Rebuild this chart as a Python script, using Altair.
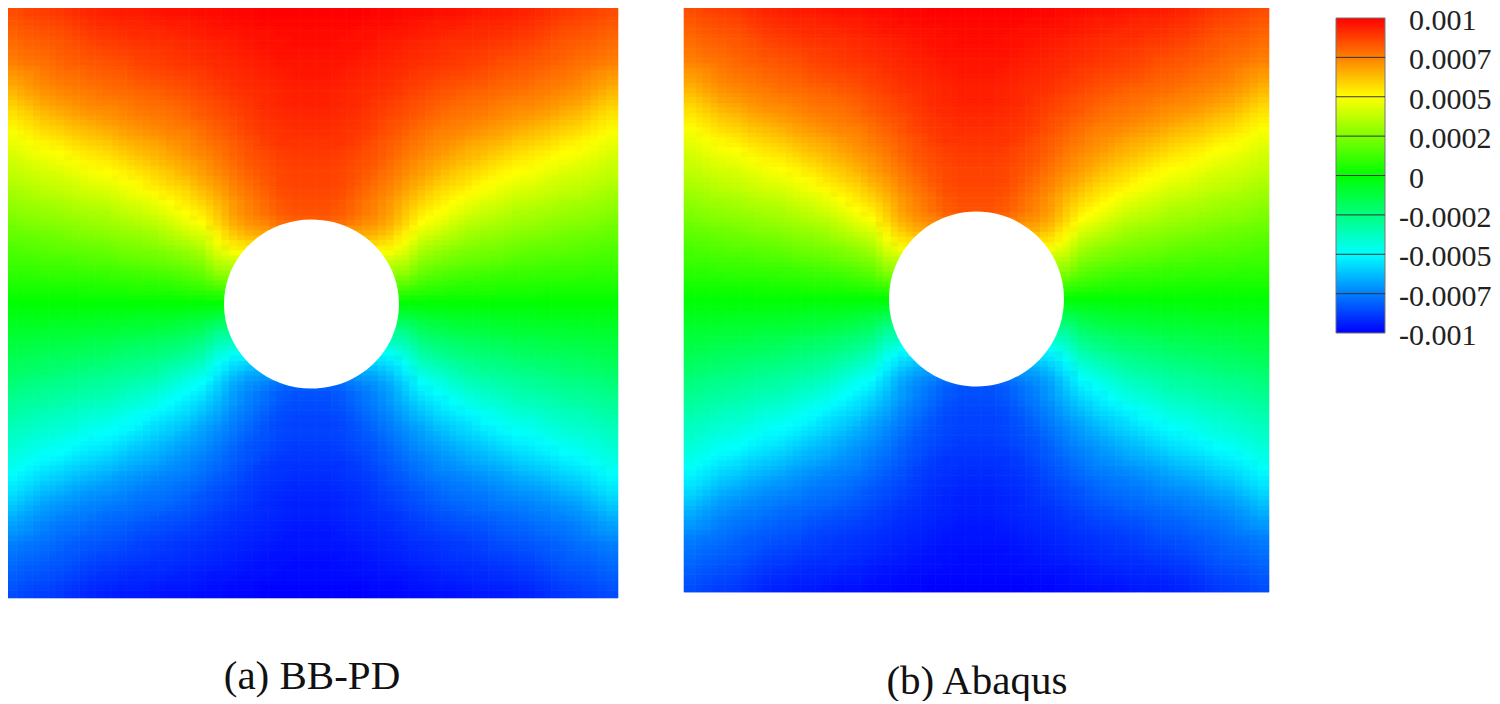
import altair as alt
import pandas as pd

# Column distances from the hole centre, and row heights above it (field is read as
# percent of 0.001 in the upper half; the lower half reads as its opposite).
COL_D = [0, 15, 30, 45, 60, 75, 90, 105, 120, 135, 150, 165, 180, 195, 210, 225, 240, 255, 270, 285]
ROW_U = [290, 280, 270, 260, 250, 240, 230, 220, 210, 200, 190, 180, 170, 160, 150, 140, 130, 120, 110, 100,
         90, 80, 70, 60, 50, 40, 30, 20, 10, 0]
FIELD = [
    [100,100,100,100,99,99,98,98,97,97,96,95,95,94,93,91,89,88,87,85],
    [99,99,99,99,98,98,97,96,95,95,94,93,93,92,91,89,87,86,85,83],
    [98,98,98,97,97,96,96,95,94,93,92,92,91,90,89,87,85,84,83,81],
    [98,98,97,97,96,95,94,93,92,91,91,90,89,88,87,85,83,82,81,79],
    [97,97,97,96,95,94,93,92,91,90,89,88,87,86,85,83,82,80,79,77],
    [96,96,96,95,94,93,92,91,90,89,88,87,85,84,83,82,80,78,77,75],
    [96,96,95,94,93,92,91,89,88,87,86,85,83,82,81,79,78,76,73,71],
    [95,95,94,93,92,91,89,88,86,85,84,83,81,80,79,77,76,74,71,68],
    [94,94,93,92,91,90,88,86,84,83,81,80,79,78,76,75,73,71,68,64],
    [94,94,93,92,90,88,86,84,82,80,79,78,76,75,74,72,70,68,64,60],
    [93,93,92,91,89,87,85,83,80,78,77,76,74,72,71,69,66,64,60,56],
    [92,92,91,90,88,85,83,80,78,76,75,73,71,69,67,65,62,60,56,53],
    [91,91,90,89,87,84,81,78,75,74,72,70,68,65,63,61,58,56,53,49],
    [90,90,90,88,85,82,79,76,73,71,68,66,64,61,59,57,54,52,49,46],
    [89,89,88,86,84,81,77,74,71,68,65,63,60,57,55,53,50,49,46,43],
    [88,88,87,85,83,79,75,71,68,65,62,59,56,53,52,49,47,45,43,40],
    [87,87,86,84,81,77,73,69,65,61,58,55,52,50,48,46,43,42,40,38],
    [87,87,86,83,79,75,70,66,61,58,55,51,49,46,45,42,40,39,37,35],
    [86,86,85,81,77,73,67,62,57,54,51,48,45,42,41,39,37,36,34,32],
    [85,85,83,79,75,70,64,58,54,50,46,43,41,38,37,35,33,32,31,29],
    [84,84,82,78,74,69,61,54,50,46,42,39,37,34,33,32,30,29,28,26],
    [80,80,78,74,71,66,58,50,46,41,37,35,33,31,30,28,27,26,25,23],
    [70,70,68,68,66,61,53,44,40,36,32,30,29,27,26,25,23,22,21,20],
    [60,60,60,60,58,55,48,38,34,31,28,26,25,23,22,21,20,19,18,17],
    [50,50,50,50,50,48,42,32,28,25,23,22,21,19,18,17,17,16,15,14],
    [40,40,40,40,40,38,35,26,23,21,19,18,17,15,15,14,13,13,12,12],
    [30,30,30,30,30,30,28,20,17,15,14,13,12,11,11,10,10,10,9,9],
    [20,20,20,20,20,20,19,14,12,10,9,9,8,8,7,7,7,6,6,6],
    [10,10,10,10,10,10,9,7,6,5,5,5,4,4,4,3,3,3,3,3],
    [0,0,0,0,0,0,0,0,0,0,0,0,0,0,0,0,0,0,0,0],
]

LEVELS = [1, 0.75, 0.5, 0.25, 0, -0.25, -0.5, -0.75, -1]
LABELS = ["0.001", "0.0007", "0.0005", "0.0002", "0", "-0.0002", "-0.0005", "-0.0007", "-0.001"]
COLOR_DOMAIN = [-1, -0.5, 0, 0.5, 1]
COLOR_RANGE = ["#0000ff", "#00ffff", "#00ff00", "#ffff00", "#ff0000"]
FONT = "Liberation Serif"
XMAX, YMAX = 292.5, 295


def build(shift_x, shift_y):
    rows = []
    for u, row in zip(ROW_U, FIELD):
        for d, val in zip(COL_D, row):
            for sx in ([1, -1] if d else [1]):
                for sy in ([1, -1] if u else [1]):
                    x, y = sx * d, sy * u
                    x0 = -XMAX if x == -COL_D[-1] else max(x - 7.5 + shift_x, -XMAX)
                    x1 = XMAX if x == COL_D[-1] else min(x + 7.5 + shift_x, XMAX)
                    y0 = -YMAX if y == -ROW_U[0] else max(y - 5 + shift_y, -YMAX)
                    y1 = YMAX if y == ROW_U[0] else min(y + 5 + shift_y, YMAX)
                    rows.append({"x": x0, "x2": x1, "y": y0, "y2": y1, "v": sy * val / 100})
    return pd.DataFrame(rows)


field_a = build(-3.75, -2.5)
field_b = build(3.75, 2.5)
cscale = alt.Scale(domain=COLOR_DOMAIN, range=COLOR_RANGE, interpolate="rgb")


def panel(caption, ydomain, width, pad, hole, hole_mark):
    xs = alt.Scale(domain=[-XMAX, XMAX], nice=False, zero=False)
    ys = alt.Scale(domain=ydomain, nice=False, zero=False)
    heat = alt.Chart(field_a).mark_rect(strokeWidth=0.6).encode(
        x=alt.X("x:Q", scale=xs, axis=alt.Axis(title=caption, domain=False, ticks=False, labels=False, grid=False,
                                               titleFont=FONT, titleFontSize=41, titleFontWeight="normal",
                                               titleColor="#111111", titlePadding=pad)),
        x2="x2:Q",
        y=alt.Y("y:Q", scale=ys, axis=None),
        y2="y2:Q",
        color=alt.Color("v:Q", scale=cscale, legend=None),
        stroke=alt.Stroke("v:Q", scale=cscale, legend=None),
    )
    smooth = alt.Chart(field_b).mark_rect(opacity=0.5).encode(
        x=alt.X("x:Q", scale=xs), x2="x2:Q",
        y=alt.Y("y:Q", scale=ys), y2="y2:Q",
        color=alt.Color("v:Q", scale=cscale, legend=None),
    )
    circ = alt.Chart(pd.DataFrame(hole)).mark_point(**hole_mark).encode(
        x=alt.X("x:Q", scale=xs), y=alt.Y("y:Q", scale=ys))
    return alt.layer(heat, smooth, circ).properties(width=width, height=600)


left = panel("(a) BB-PD", [-303, 297], 613, 50, [{"x": 0, "y": -1}],
             dict(filled=True, color="white", opacity=1, strokeWidth=0, size=30625,
                  shape="M -1 0 A 1 0.966 0 1 0 1 0 A 1 0.966 0 1 0 -1 0 Z"))
right = panel("(b) Abaqus", [-309, 295], 585, 55, [{"x": 0, "y": 0}],
              dict(filled=True, color="white", opacity=1, strokeWidth=0, size=30625,
                   shape="M -1 0 A 1 1 0 1 0 1 0 A 1 1 0 1 0 -1 0 Z"))

# Colour bar
bys = alt.Scale(domain=[-2.733, 1.0762], nice=False, zero=False)
grad = alt.Gradient(gradient="linear", x1=0, x2=0, y1=0, y2=1, stops=[
    alt.GradientStop(color=c, offset=o) for c, o in
    zip(COLOR_RANGE[::-1], [0, 0.25, 0.5, 0.75, 1])])
bar = alt.Chart(pd.DataFrame({"a": [1], "b": [-1]})).mark_rect(color=grad, stroke="#777777", strokeWidth=1).encode(
    x=alt.value(2), x2=alt.value(51),
    y=alt.Y("a:Q", scale=bys, axis=None), y2="b:Q")
lv = pd.DataFrame({"level": LEVELS, "label": LABELS})
ticks = alt.Chart(lv[(lv.level.abs() < 1)]).mark_rule(color="#333333", strokeWidth=1).encode(
    x=alt.value(2), x2=alt.value(51), y=alt.Y("level:Q", scale=bys, axis=None))
pos = alt.Chart(lv[lv.level >= 0]).mark_text(align="left", baseline="middle", font=FONT, fontSize=30, dy=3,
                                             color="#222222").encode(
    x=alt.value(75), y=alt.Y("level:Q", scale=bys, axis=None), text="label:N")
neg = alt.Chart(lv[lv.level < 0]).mark_text(align="left", baseline="middle", font=FONT, fontSize=30, dy=3,
                                            color="#222222").encode(
    x=alt.value(65), y=alt.Y("level:Q", scale=bys, axis=None), text="label:N")
cbar = alt.layer(bar, ticks, pos, neg).properties(width=52, height=600)

chart = alt.hconcat(left, right, cbar, spacing=64).properties(
    padding={"left": -4, "top": -3, "right": 0, "bottom": 0}
).configure_view(stroke=None)

chart.save("out.html", embed_options={"renderer": "svg", "actions": False})
